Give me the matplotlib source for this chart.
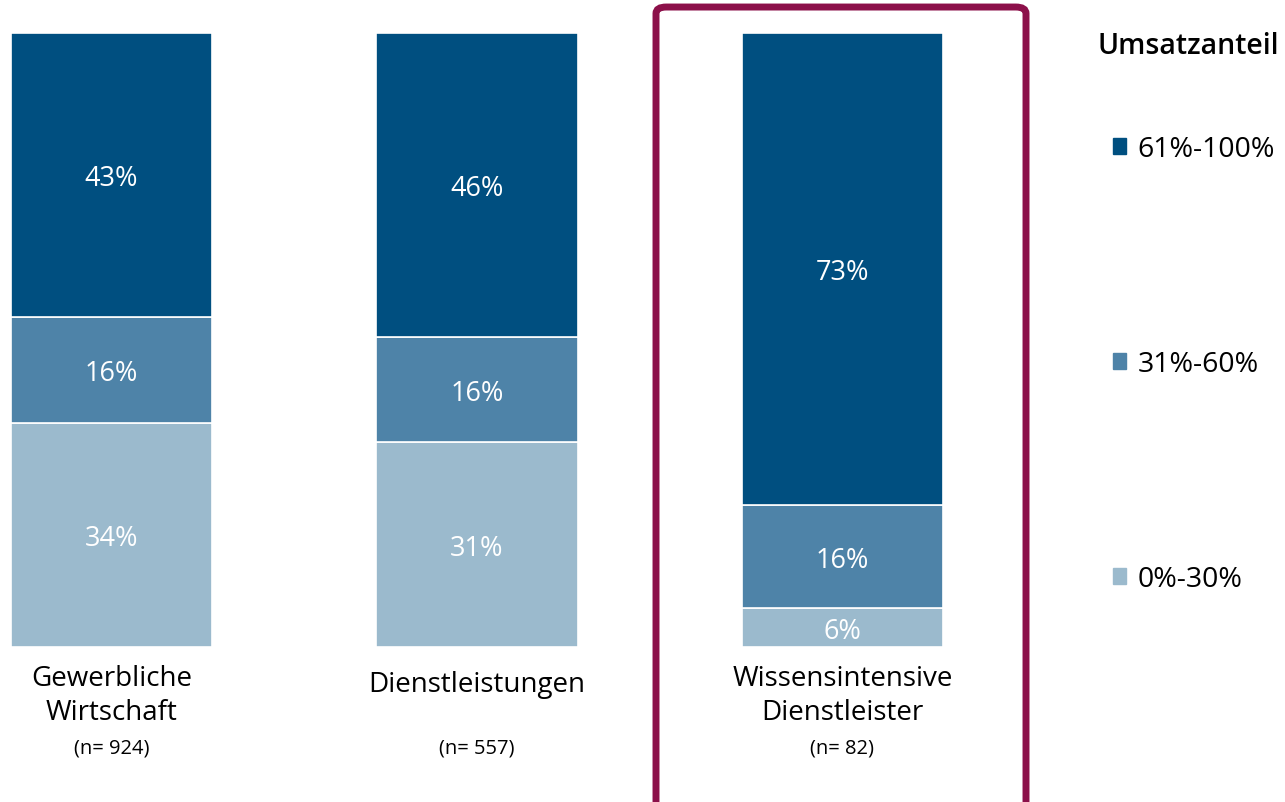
import matplotlib.pyplot as plt
from matplotlib.patches import FancyBboxPatch, Patch

plt.rcParams['font.family'] = ['Open Sans', 'DejaVu Sans']

# Data
categories = ['Gewerbliche\nWirtschaft', 'Dienstleistungen', 'Wissensintensive\nDienstleister']
n_labels = ['(n= 924)', '(n= 557)', '(n= 82)']
segments = ['0%-30%', '31%-60%', '61%-100%']
share_low = [34, 31, 6]
share_mid = [16, 16, 16]
share_high = [43, 46, 73]
colors = ['#9bbacd', '#4e83a8', '#004f80']

fig = plt.figure(figsize=(12.85, 8.03), dpi=100)
ax = fig.add_axes([0, 155 / 803, 1, 614 / 803])
ax.set_xlim(-111.5 / 365.5, (1285 - 111.5) / 365.5)
ax.set_ylim(0, 100)
ax.axis('off')

x = range(len(categories))
series = [share_low, share_mid, share_high]
totals = [a + b + c for a, b, c in zip(share_low, share_mid, share_high)]
bottoms = [0] * len(categories)
for vals, col in zip(series, colors):
    heights = [v / t * 100 for v, t in zip(vals, totals)]
    ax.bar(x, heights, bottom=bottoms, width=0.55, color=col, edgecolor='white', linewidth=1.2)
    for xi, h, b, v in zip(x, heights, bottoms, vals):
        ax.annotate(f'{v}%', (xi, b + h / 2), xytext=(0, -2.5), textcoords='offset points',
                    ha='center', va='center', color='white', fontsize=19.5)
    bottoms = [b + h for b, h in zip(bottoms, heights)]

for xi, cat, n in zip(x, categories, n_labels):
    off = -12 if '\n' in cat else -16.5
    ax.annotate(cat, (xi, 0), xytext=(0, off), textcoords='offset points',
                ha='center', va='top', fontsize=20, linespacing=1.28, annotation_clip=False)
    ax.annotate(n, (xi, 0), xytext=(0, -65), textcoords='offset points',
                ha='center', va='top', fontsize=14.5, annotation_clip=False)

# highlight frame around the third group
frame = FancyBboxPatch((656 / 1285, -0.05), 370 / 1285, 1.04, transform=fig.transFigure,
                       boxstyle='round,pad=0,rounding_size=0.008', facecolor='none',
                       edgecolor='#8c104a', linewidth=5, clip_on=False)
fig.patches.append(frame)

# legend
fig.text(1098 / 1285, 1 - 47 / 803, 'Umsatzanteil', fontsize=20.5, fontweight='semibold', va='center')
handles = [Patch(color=c, label=s) for c, s in zip(colors[::-1], segments[::-1])]
fig.legend(handles=handles, loc='upper left', bbox_to_anchor=(1113 / 1285, 1 - 136 / 803),
           frameon=False, fontsize=20.5, handlelength=0.45, handleheight=0.45, handletextpad=0.4,
           labelspacing=6.57, borderaxespad=0, borderpad=0)

fig.savefig('out.png', dpi=100)
